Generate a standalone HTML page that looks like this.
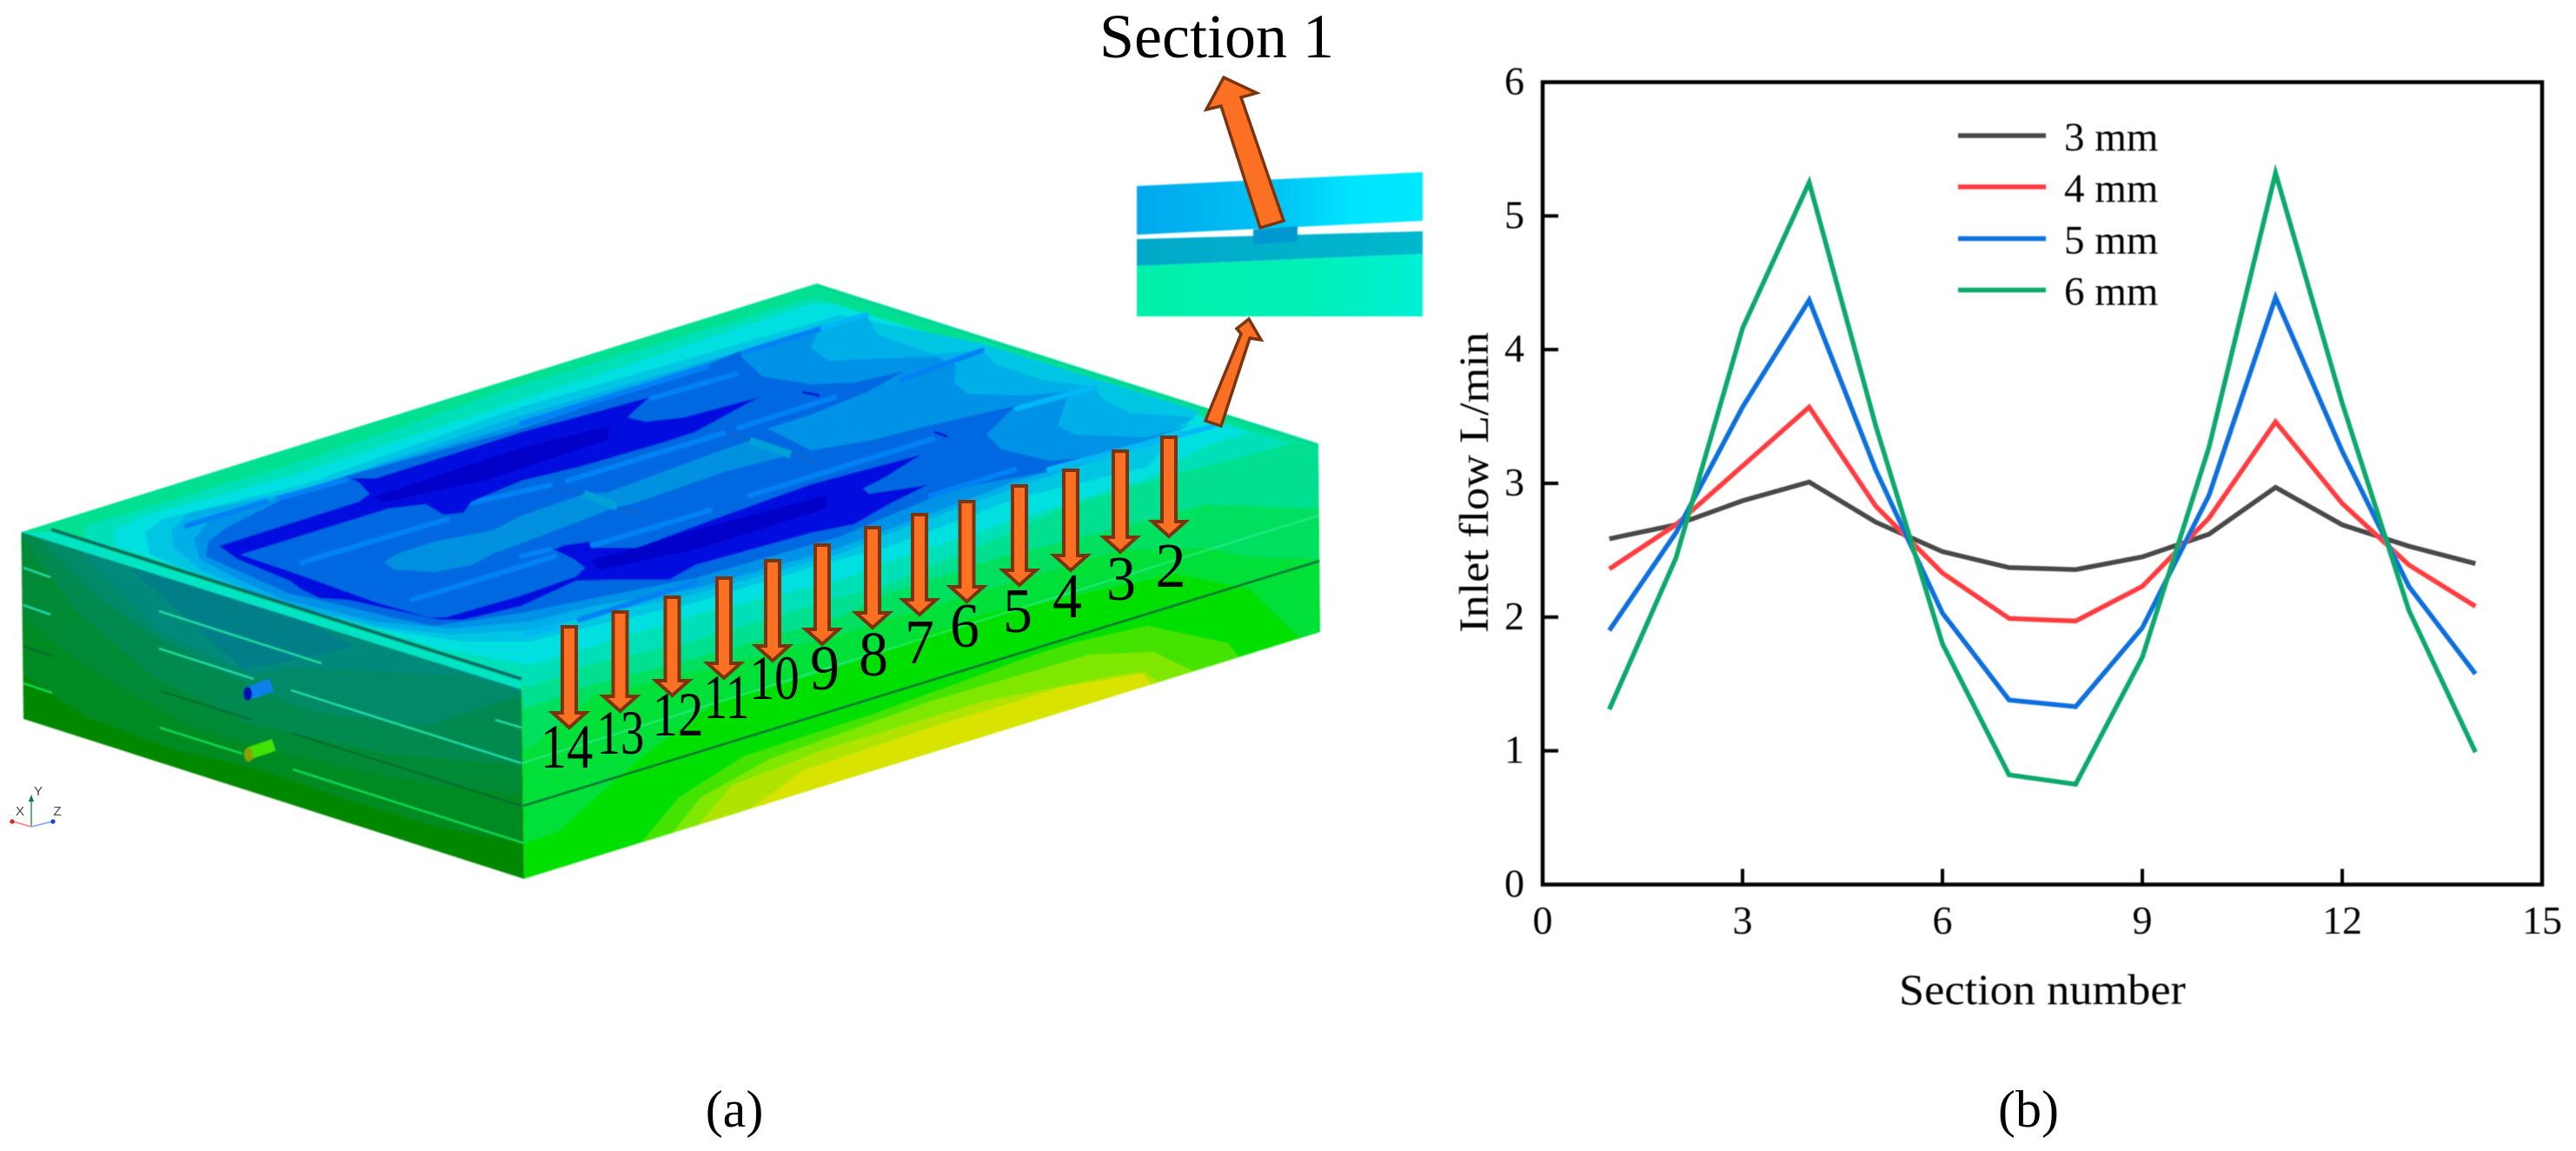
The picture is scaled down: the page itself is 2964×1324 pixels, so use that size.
<!DOCTYPE html>
<html>
<head>
<meta charset="utf-8">
<style>
html,body{margin:0;padding:0;background:#fff;width:2964px;height:1324px;overflow:hidden}
svg{display:block;font-family:"Liberation Serif",serif}
</style>
</head>
<body>
<svg id="fig" width="2964" height="1324" viewBox="0 0 2964 1324" xmlns="http://www.w3.org/2000/svg">
<defs>
<filter id="soft" x="-5%" y="-5%" width="110%" height="110%"><feGaussianBlur stdDeviation="0.9"/></filter>
<filter id="softText" x="-5%" y="-5%" width="110%" height="110%"><feGaussianBlur stdDeviation="0.5"/></filter>
<clipPath id="rightClip"><polygon points="600,793 1517,510 1519,727 603,1011"/></clipPath>
<clipPath id="topClip"><polygon points="24.5,612 940,326 1517,510 1517,800 603,1011 600,793"/></clipPath>
<linearGradient id="strip1" x1="0" x2="1" y1="0" y2="0"><stop offset="0" stop-color="#00a8ec"/><stop offset=".5" stop-color="#00c4f4"/><stop offset=".75" stop-color="#00e4ff"/><stop offset="1" stop-color="#00e8fc"/></linearGradient>
<linearGradient id="strip2" x1="0" x2="1" y1="0" y2="0"><stop offset="0" stop-color="#00a8c8"/><stop offset="1" stop-color="#00b8cc"/></linearGradient>
<linearGradient id="strip3" x1="0" x2="1" y1="0" y2="0"><stop offset="0" stop-color="#00f0a8"/><stop offset=".6" stop-color="#00f0b8"/><stop offset="1" stop-color="#00f0d4"/></linearGradient>
</defs>
<rect width="2964" height="1324" fill="#fff"/>

<g filter="url(#soft)">
  <g>
    <polygon points="24.5,612 600,793 603,1011 27,827" fill="#008800"/>
    <polygon points="24.5,612 600,793 602,970 500,950 400,920 300,885 200,862 100,825 27,777" fill="#008a22"/>
    <polygon points="24.5,612 600,793 601,915 450,895 330,868 220,835 110,775 27,710" fill="#008a36"/>
    <polygon points="27,620 89,703 178,780 290,833 446,867 598,880 600,793 24.5,612" fill="#008a50"/>
    <polygon points="45,620 112,687 184,735 291,790 357,818 491,835 598,800 600,793 40,616" fill="#008a68"/>
    <polygon points="97,640 184,727 291,777 337,767 536,777 600,797 600,793 97,630" fill="#008a7c"/>
    <polygon points="153,657 280,770 337,760 408,743 306,693 150,645" fill="#007f88"/>
    <g stroke="#20e0a8" stroke-width="2.2" fill="none">
      <line x1="27" y1="653" x2="58" y2="664"/><line x1="27" y1="696" x2="58" y2="707"/>
      <line x1="183" y1="703" x2="370" y2="763"/><line x1="183" y1="746" x2="292" y2="781"/>
      <line x1="335" y1="794" x2="600" y2="878"/><line x1="570" y1="828" x2="600" y2="837"/>
    </g>
    <g stroke="#10e050" stroke-width="2.2" fill="none">
      <line x1="27" y1="786" x2="60" y2="797"/><line x1="184" y1="837" x2="279" y2="867"/><line x1="337" y1="885" x2="603" y2="970"/>
    </g>
    <g stroke="#0a5c30" stroke-width="1.6" fill="none">
      <line x1="185" y1="795" x2="290" y2="828"/><line x1="335" y1="843" x2="600" y2="927"/><line x1="27" y1="743" x2="60" y2="755"/>
    </g>
  </g>
  <g clip-path="url(#rightClip)">
    <polygon points="600,793 1517,510 1519,727 603,1011" fill="#00e000"/>
    <polygon points="733,975 782,917 856,870 1009,820 1192,753 1233,740 1320,720 1413,740 1440,775" fill="#44e400"/>
    <polygon points="760,975 807,917 886,873 1070,807 1254,753 1327,750 1410,790" fill="#80e800"/>
    <polygon points="790,965 843,903 947,863 1131,807 1284,777 1315,773 1360,800" fill="#b0e400"/>
    <polygon points="837,950 923,887 1070,837 1223,790 1315,775 1340,810" fill="#d8e400"/>
    <polygon points="600,793 1517,510 1519,727 1497,735 1437,677 1353,660 1131,707 947,773 825,807 739,870 690,913 641,957 604,970" fill="#00e038"/>
    <polygon points="600,793 1517,510 1518,643 1437,640 1387,630 1287,633 1153,673 1020,713 967,730 800,773 683,800 603,865" fill="#00e060"/>
    <polygon points="600,793 1517,510 1517,585 1387,580 1287,607 1153,640 1020,683 967,710 800,757 683,787 603,815" fill="#00e090"/>
    <line x1="600" y1="878" x2="1517" y2="593" stroke="#40f0a8" stroke-width="2" opacity=".55"/>
    <line x1="602" y1="927" x2="1519" y2="645" stroke="#0a5c30" stroke-width="2.4"/>
  </g>
  <g clip-path="url(#topClip)">
    <polygon points="24.5,612 940,326 1517,510 600,793" fill="#00e090"/>
    <polygon points="97,605 350,530 600,443 933,343 945,345 1487,510 1353,545 1220,585 1153,617 1020,673 967,687 800,737 683,763 610,790 530,770 400,720 300,688 133,632 97,620" fill="#00e0b8"/>
    <polygon points="130,610 167,593 350,543 600,460 933,350 960,350 1437,497 1387,513 1320,550 1170,597 1020,647 967,667 800,707 683,743 610,765 500,745 400,712 300,680 200,650 133,628" fill="#00e0e0"/>
    <polygon points="167,613 187,597 350,557 600,468 967,362 1130,395 1380,473 1320,537 1170,573 1020,630 967,643 800,693 683,720 610,738 533,738 433,723 333,697 200,650 172,637" fill="#00c6e4"/>
    <polygon points="197,610 217,590 350,563 600,478 943,377 997,362 1010,385 1073,407 1130,403 1147,420 1200,437 1260,445 1270,460 1300,475 1375,480 1320,510 1170,560 1020,615 967,637 800,683 683,708 610,725 517,730 433,720 320,693 233,657 200,630" fill="#00aee8"/>
    <polygon points="223,620 243,597 320,573 333,567 400,547 600,487 813,417 943,377 933,400 953,415 1077,410 1100,420 1098,440 1113,453 1180,455 1233,450 1227,460 1217,490 1237,500 1320,503 1376,487 1253,530 1170,553 967,630 800,677 683,697 610,715 520,723 433,715 327,690 267,663 230,643" fill="#0092e6"/>
    <polygon points="240,623 260,607 320,577 400,547 600,493 813,420 853,403 853,410 877,433 933,442 983,440 1040,427 1000,450 933,477 883,493 933,518 1000,507 1067,490 1168,467 1135,500 1153,517 1207,530 1243,527 1202,543 1095,563 967,617 800,665 683,688 600,705 500,720 450,710 367,690 333,683 237,640" fill="#0068e0"/>
    <polygon points="442,647 457,637 500,623 567,610 600,593 673,568 697,567 833,517 863,507 910,523 833,543 727,580 710,583 600,625 567,637 543,650 500,658 453,655" fill="#0090e0"/>
    <g stroke="#0082f4" stroke-width="6" fill="none" stroke-linecap="round">
      <line x1="347" y1="647" x2="515" y2="597"/><line x1="474" y1="690" x2="638" y2="640"/>
      <line x1="321" y1="573" x2="398" y2="552"/><line x1="214" y1="605" x2="306" y2="577"/>
      <line x1="536" y1="580" x2="633" y2="558"/><line x1="600" y1="487" x2="813" y2="422"/>
      <line x1="857" y1="405" x2="947" y2="377"/><line x1="750" y1="458" x2="847" y2="430"/>
      <line x1="653" y1="553" x2="833" y2="498"/><line x1="850" y1="492" x2="960" y2="457"/>
      <line x1="863" y1="570" x2="1073" y2="505"/><line x1="680" y1="628" x2="817" y2="587"/>
      <line x1="667" y1="713" x2="800" y2="670"/><line x1="1071" y1="570" x2="1168" y2="540"/>
      <line x1="600" y1="640" x2="633" y2="632"/><line x1="1037" y1="437" x2="1130" y2="403"/>
    </g>
    <g stroke="#00b8f6" stroke-width="6" fill="none" stroke-linecap="round">
      <line x1="947" y1="377" x2="997" y2="362"/><line x1="1170" y1="470" x2="1260" y2="445"/>
      <line x1="1320" y1="510" x2="1397" y2="490"/><line x1="1207" y1="540" x2="1320" y2="510"/>
      <line x1="603" y1="730" x2="647" y2="720"/>
    </g>
    <polygon points="252,628 413,577 425,568 413,555 403,550 433,550 600,497 747,457 722,480 743,485 787,480 873,457 800,497 760,510 667,537 600,553 543,577 533,590 510,592 490,580 447,585 277,638" fill="#0008de"/>
    <polygon points="252,628 273,643 333,668 347,678 367,688 400,690 477,707 507,713 533,713 600,697 663,668 700,667 770,667 800,650 933,613 983,603 1023,580 1067,558 1000,568 993,562 1017,550 1060,523 933,557 833,593 733,630 680,630 678,623 650,627 637,632 660,643 673,653 663,663 600,685 513,710 493,710 433,693 347,662 277,638" fill="#0008de"/>
    <polygon points="430,572 600,515 700,490 700,505 560,552 445,577" fill="#0000c8"/>
    <polygon points="680,645 800,610 950,570 950,585 800,632 690,655" fill="#0000c8"/>
    <g stroke="#00a0d8" stroke-width="9" fill="none"><line x1="672" y1="568" x2="710" y2="583"/><line x1="863" y1="507" x2="910" y2="523"/></g>
    <g stroke="#2060a0" stroke-width="1.4" fill="none" opacity=".7"><line x1="637" y1="560" x2="672" y2="568"/><line x1="710" y1="583" x2="747" y2="595"/><line x1="833" y1="497" x2="863" y2="507"/><line x1="910" y1="522" x2="943" y2="532"/></g>
    <g stroke="#0010d8" stroke-width="3" fill="none"><line x1="923" y1="451" x2="943" y2="455"/><line x1="1075" y1="497" x2="1090" y2="502"/></g>
  </g>
  <polygon points="24.5,612 59,612 600,785 600,793" fill="#00e4c4"/>
  <line x1="59" y1="609" x2="600" y2="781" stroke="#0d6e60" stroke-width="4"/>
  <line x1="940" y1="329" x2="1517" y2="513" stroke="#10c8a0" stroke-width="1.6"/>
  <g>
    <line x1="288" y1="797" x2="312" y2="788" stroke="#1080f0" stroke-width="15"/>
    <ellipse cx="285" cy="798" rx="5" ry="8" fill="#0010b0"/>
  </g>
  <g>
    <line x1="288" y1="866" x2="315" y2="857" stroke="#40e400" stroke-width="14"/>
    <ellipse cx="286" cy="868" rx="5" ry="8" fill="#88a000"/>
  </g>
</g>

<g font-family="Liberation Sans, sans-serif" font-size="15" fill="#444">
  <line x1="36" y1="951" x2="36" y2="920" stroke="#40a060" stroke-width="1.6"/><polygon points="33,922 39,922 36,914" fill="#008040"/>
  <line x1="36" y1="951" x2="15" y2="945" stroke="#f08080" stroke-width="1.6"/><circle cx="14" cy="945" r="2.6" fill="#e02020"/>
  <line x1="36" y1="951" x2="60" y2="945" stroke="#80a0f0" stroke-width="1.6"/><circle cx="61" cy="945" r="2.6" fill="#1040e0"/>
  <text x="44" y="915" text-anchor="middle">Y</text><text x="23" y="938" text-anchor="middle">X</text><text x="66" y="938" text-anchor="middle">Z</text>
</g>

<g filter="url(#soft)">
  <polygon points="1308,214 1637,198 1637,254 1308,270" fill="url(#strip1)"/>
  <polygon points="1308,275 1637,266 1637,292 1308,306" fill="url(#strip2)"/>
  <polygon points="1308,306 1637,292 1637,364 1308,364" fill="url(#strip3)"/>
  <polygon points="1442,264 1493,260 1493,278 1442,281" fill="#0098d0"/>
</g>

<g fill="#fb7023" stroke="#7c3410" stroke-width="3.5" stroke-linejoin="miter">
  <polygon points="1450,262 1477,254 1428,112 1446,107 1408,89 1388,126 1405,122"/>
  <polygon points="1387,484 1405,490 1438,389 1451,391 1437,367 1423,378 1428,384"/>
</g>
<g id="downArrows" fill="#fb7023" stroke="#7c3410" stroke-width="4">
  <polygon points="1337,503 1353,503 1353,600 1364,600 1345,617 1326,600 1337,600"/>
  <polygon points="1281,519 1297,519 1297,618 1308,618 1289,635 1270,618 1281,618"/>
  <polygon points="1224,541 1240,541 1240,639 1251,639 1232,656 1213,639 1224,639"/>
  <polygon points="1165,559 1181,559 1181,656 1192,656 1173,673 1154,656 1165,656"/>
  <polygon points="1104.5,577 1120.5,577 1120.5,675 1131.5,675 1112.5,692 1093.5,675 1104.5,675"/>
  <polygon points="1050,592 1066,592 1066,690 1077,690 1058,707 1039,690 1050,690"/>
  <polygon points="996,607 1012,607 1012,705 1023,705 1004,722 985,705 996,705"/>
  <polygon points="938,627 954,627 954,724 965,724 946,741 927,724 938,724"/>
  <polygon points="881,645 897,645 897,743 908,743 889,760 870,743 881,743"/>
  <polygon points="825,665 841,665 841,763 852,763 833,780 814,763 825,763"/>
  <polygon points="765.5,687 781.5,687 781.5,783 792.5,783 773.5,800 754.5,783 765.5,783"/>
  <polygon points="705.5,704 721.5,704 721.5,801 732.5,801 713.5,818 694.5,801 705.5,801"/>
  <polygon points="647,721 663,721 663,820 674,820 655,837 636,820 647,820"/>
</g>
<g font-size="72" fill="#000" text-anchor="middle">
  <text transform="translate(652,883) scale(.84,1)">14</text>
  <text transform="translate(714,867) scale(.76,1)">13</text>
  <text transform="translate(780,846) scale(.82,1)">12</text>
  <text transform="translate(836,826) scale(.76,1)">11</text>
  <text transform="translate(891,804) scale(.8,1)">10</text>
  <text transform="translate(949,793) scale(.94,1.02)">9</text>
  <text transform="translate(1005,777) scale(.94,1.02)">8</text>
  <text transform="translate(1058,763) scale(.94,1.02)">7</text>
  <text transform="translate(1110,744) scale(.94,1.02)">6</text>
  <text transform="translate(1171,727) scale(.94,1.02)">5</text>
  <text transform="translate(1228,710) scale(.94,1.02)">4</text>
  <text transform="translate(1290,690) scale(.94,1.02)">3</text>
  <text transform="translate(1347,675) scale(.98,1.02)">2</text>
</g>
<text x="1400" y="66" font-size="72" text-anchor="middle" fill="#000">Section 1</text>
<text x="845" y="1296" font-size="60" text-anchor="middle" fill="#000">(a)</text>
<text x="2334" y="1296" font-size="60" text-anchor="middle" fill="#000">(b)</text>

<g id="chart" filter="url(#softText)"></g>
</svg>

<script>
var sections = [1,2,3,4,5,6,7,8,9,10,11,12,13,14];
var flow3mm = [2.585,2.69,2.87,3.01,2.71,2.49,2.37,2.355,2.45,2.62,2.97,2.69,2.53,2.40];
var flow4mm = [2.36,2.69,3.13,3.57,2.83,2.33,1.99,1.97,2.23,2.74,3.46,2.85,2.39,2.08];
var flow5mm = [1.90,2.63,3.57,4.37,3.10,2.03,1.38,1.33,1.92,2.91,4.39,3.24,2.23,1.575];
var flow6mm = [1.31,2.44,4.16,5.25,3.43,1.80,0.82,0.75,1.70,3.27,5.32,3.60,2.05,0.99];
var seriesLabels = ["3 mm","4 mm","5 mm","6 mm"];
var xTicks = [0,3,6,9,12,15];
var yTicks = [0,1,2,3,4,5,6];
var xAxisTitle = "Section number";
var yAxisTitle = "Inlet flow L/min";

(function(){
  var NS = "http://www.w3.org/2000/svg";
  var root = document.getElementById("chart");
  var left = 1775, right = 2925, top = 94.5, bottom = 1017.5;
  var xMax = xTicks[xTicks.length-1], yMax = yTicks[yTicks.length-1];
  function xS(v){ return left + v*(right-left)/xMax; }
  function yS(v){ return bottom - v*(bottom-top)/yMax; }
  function mk(tag, attrs, parent){
    var e = document.createElementNS(NS, tag);
    for (var k in attrs) e.setAttribute(k, attrs[k]);
    (parent||root).appendChild(e);
    return e;
  }
  var frame = mk("rect",{x:left,y:top,width:right-left,height:bottom-top,fill:"none",stroke:"#000","stroke-width":4.5});
  
  
  xTicks.forEach(function(t){
    var l = mk("line",{x1:xS(t),x2:xS(t),y1:bottom,y2:bottom-18,stroke:"#000","stroke-width":4});
    
    
    var s = mk("text",{x:xS(t),y:1074,"font-size":46,"text-anchor":"middle",fill:"#000"});
    
    
    s.textContent = t;
  });
  yTicks.forEach(function(t){
    var l = mk("line",{x1:left,x2:left+18,y1:yS(t),y2:yS(t),stroke:"#000","stroke-width":4});
    
    
    var s = mk("text",{x:1754,y:yS(t)+14,"font-size":46,"text-anchor":"end",fill:"#000"});
    
    
    s.textContent = t;
  });
  var xt = mk("text",{x:2350,y:1155,"font-size":50,"text-anchor":"middle",fill:"#000",textLength:330,lengthAdjust:"spacingAndGlyphs"});
  
  
  xt.textContent = xAxisTitle;
  var yt = mk("text",{transform:"translate(1712,555) rotate(-90)","font-size":48,"text-anchor":"middle",fill:"#000",textLength:346,lengthAdjust:"spacingAndGlyphs"});
  
  
  yt.textContent = yAxisTitle;

  var allSeries = [flow3mm, flow4mm, flow5mm, flow6mm];
  var colors = ["#4a4a4a","#ff3c41","#0a70dc","#0aa86c"];
  var slugs = ["3mm","4mm","5mm","6mm"];
  allSeries.forEach(function(vals,i){
    var pts = vals.map(function(v,j){ return xS(sections[j]).toFixed(1)+","+yS(v).toFixed(1); }).join(" ");
    var p = mk("polyline",{points:pts,fill:"none",stroke:colors[i],"stroke-width":5.5,"stroke-linejoin":"miter"});
    
    
  });
  var legendYs = [156,215,274.5,333.6];
  seriesLabels.forEach(function(lbl,i){
    var l = mk("line",{x1:2253,x2:2354,y1:legendYs[i],y2:legendYs[i],stroke:colors[i],"stroke-width":5.5});
    
    
    var s = mk("text",{x:2375,y:legendYs[i]+17,"font-size":47,fill:"#000"});
    
    
    s.textContent = lbl;
  });
})();
</script>
</body>
</html>
